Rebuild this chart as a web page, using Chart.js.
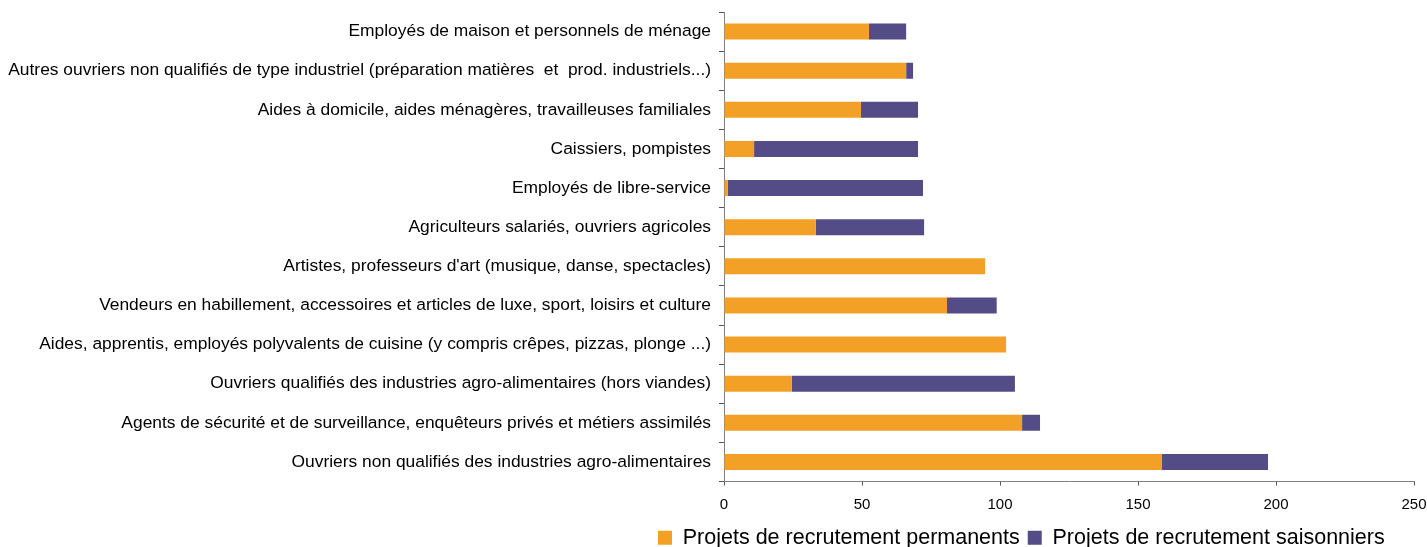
<!DOCTYPE html>
<html>
<head>
<meta charset="utf-8">
<script src="https://cdn.jsdelivr.net/npm/chart.js@4"></script>
<style>
  html, body { margin: 0; padding: 0; background: #fff; }
  #wrap { width: 1427px; height: 547px; position: relative; }
</style>
</head>
<body>
<div id="wrap"><canvas id="c"></canvas></div>
<script>
const categories = [
  "Employés de maison et personnels de ménage",
  "Autres ouvriers non qualifiés de type industriel (préparation matières  et  prod. industriels...)",
  "Aides à domicile, aides ménagères, travailleuses familiales",
  "Caissiers, pompistes",
  "Employés de libre-service",
  "Agriculteurs salariés, ouvriers agricoles",
  "Artistes, professeurs d'art (musique, danse, spectacles)",
  "Vendeurs en habillement, accessoires et articles de luxe, sport, loisirs et culture",
  "Aides, apprentis, employés polyvalents de cuisine (y compris crêpes, pizzas, plonge ...)",
  "Ouvriers qualifiés des industries agro-alimentaires (hors viandes)",
  "Agents de sécurité et de surveillance, enquêteurs privés et métiers assimilés",
  "Ouvriers non qualifiés des industries agro-alimentaires"
];
const permanents  = [52.5, 66, 49.6, 10.9, 1.4, 33.3, 94.6, 80.8, 102.2, 24.6, 108, 158.7];
const saisonniers = [13.5, 2.5, 20.7, 59.4, 70.7, 39.2, 0, 18, 0, 80.8, 6.5, 38.4];
const seriesNames = ["Projets de recrutement permanents", "Projets de recrutement saisonniers"];
const xTicks = [0, 50, 100, 150, 200, 250];

const legendPlace = {
  id: 'legendPlace',
  afterLayout(chart) {
    const lg = chart.legend;
    if (!lg) return;
    const pad = lg.options.labels.padding;
    const h = lg.bottom - lg.top;
    lg.left = 658 - pad;
    lg.right = 1427;
    lg.width = lg.right - lg.left;
    lg.top = 540 - pad - 12.9;
    lg.bottom = lg.top + h;
  }
};

new Chart(document.getElementById('c'), {
  type: 'bar',
  data: {
    labels: categories,
    datasets: [
      { label: seriesNames[0], data: permanents, backgroundColor: '#F3A026', borderWidth: 0 },
      { label: seriesNames[1], data: saisonniers, backgroundColor: '#534C86', borderWidth: 0 }
    ]
  },
  options: {
    indexAxis: 'y',
    responsive: true,
    maintainAspectRatio: false,
    animation: false,
    categoryPercentage: 1,
    barPercentage: 0.41,
    layout: { padding: { top: 12, right: 13, left: 0, bottom: -10 } },
    scales: {
      x: {
        stacked: true,
        min: 0, max: 250,
        afterBuildTicks(scale) { scale.ticks = xTicks.map(v => ({ value: v })); },
        afterFit(scale) { scale.height = 36; scale.paddingLeft = 0; scale.paddingRight = 0; },
        border: { display: true, color: '#808080', width: 1 },
        grid: { display: true, drawOnChartArea: false, drawTicks: true, tickLength: 4, color: '#555' },
        ticks: { color: '#000', font: { family: 'Liberation Sans', size: 15 }, padding: 10, maxRotation: 0 }
      },
      y: {
        stacked: true,
        afterFit(scale) { scale.width = 724; scale.paddingTop = 0; scale.paddingBottom = 0; },
        border: { display: true, color: '#808080', width: 1 },
        grid: { display: true, drawOnChartArea: false, drawTicks: true, tickLength: 5, offset: true, color: '#555' },
        ticks: { color: '#000', font: { family: 'Liberation Sans', size: 17.4 }, padding: 8, autoSkip: false }
      }
    },
    plugins: {
      legend: {
        position: 'bottom',
        align: 'start',
        labels: {
          boxWidth: 14, boxHeight: 14, padding: 8,
          color: '#000',
          font: { family: 'Liberation Sans', size: 21.5 }
        }
      },
      tooltip: { enabled: false }
    }
  },
  plugins: [legendPlace]
});
</script>
</body>
</html>
